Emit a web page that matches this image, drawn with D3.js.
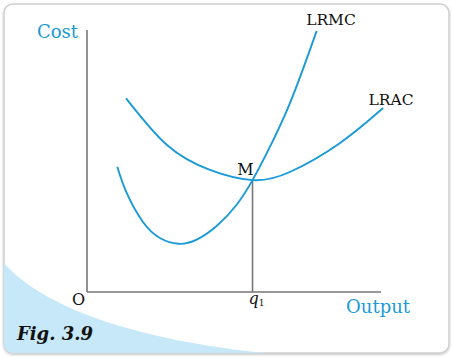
<!DOCTYPE html>
<html>
<head>
<meta charset="utf-8">
<script src="https://cdn.jsdelivr.net/npm/d3@7"></script>
<style>
body { margin: 0; background: #fff; }
svg { display: block; }
</style>
</head>
<body>
<script>
// output (q) and cost values, 0..100 units
const mcQ = [10.3, 13.5, 19.1, 24.8, 31.1, 37.3, 44.1, 50.9, 56.3, 61.1, 69.0, 78.1];
const mcC = [47.8, 37.8, 26.6, 20.6, 18.4, 20.0, 25.2, 33.3, 42.7, 52.9, 72.0, 99.6];
const acQ = [13.3, 27.2, 41.8, 56.3, 69.0, 86.1, 100.7];
const acC = [73.9, 56.1, 46.6, 42.7, 45.8, 56.9, 70.2];
const q1 = 56.3, mCost = 42.7;
const labels = { y: "Cost", x: "Output", origin: "O", fig: "Fig. 3.9" };

const W = 453, H = 357;
const blue = "#1a9ad6", axisCol = "#777", serif = "'DejaVu Serif', serif";

let svg = d3.select("body").append("svg").attr("width", W).attr("height", H);
let defs = svg.append("defs");
defs.append("filter").attr("id", "sh").attr("x", "-5%").attr("y", "-5%").attr("width", "110%").attr("height", "110%")
	.append("feDropShadow").attr("dx", 0).attr("dy", 1).attr("stdDeviation", 1.2).attr("flood-color", "#000").attr("flood-opacity", 0.25);
defs.append("clipPath").attr("id", "box")
	.append("rect").attr("x", 4).attr("y", 4).attr("width", 445).attr("height", 349).attr("rx", 9);

// panel
svg.append("rect").attr("x", 4).attr("y", 4).attr("width", 445).attr("height", 349).attr("rx", 9)
	.attr("fill", "#fff").attr("stroke", "#d0d0d0").attr("stroke-width", 1.5).attr("filter", "url(#sh)");
svg.append("path").attr("clip-path", "url(#box)")
	.attr("d", "M0,258 C40,310 150,345 300,356 L0,356 Z")
	.attr("fill", "#c6e8f8");

let x = d3.scaleLinear().domain([0, 100]).range([87, 381]);
let y = d3.scaleLinear().domain([0, 100]).range([292, 30]);

// axes
let g = svg.append("g");
g.append("line").attr("x1", x(0)).attr("x2", x(0)).attr("y1", y(100)).attr("y2", y(0))
	.attr("stroke", axisCol).attr("stroke-width", 1.6);
g.append("line").attr("x1", x(0)).attr("x2", x(100)).attr("y1", y(0)).attr("y2", y(0))
	.attr("stroke", axisCol).attr("stroke-width", 1.6);
g.append("line").attr("x1", x(q1)).attr("x2", x(q1)).attr("y1", y(mCost)).attr("y2", y(0))
	.attr("stroke", axisCol).attr("stroke-width", 1.6);

let line = d3.line().x(d => x(d[0])).y(d => y(d[1])).curve(d3.curveNatural);
g.append("path").datum(d3.zip(mcQ, mcC)).attr("d", line)
	.attr("fill", "none").attr("stroke", blue).attr("stroke-width", 1.9);
g.append("path").datum(d3.zip(acQ, acC)).attr("d", line)
	.attr("fill", "none").attr("stroke", blue).attr("stroke-width", 1.9);

// labels
let t = svg.append("g").attr("font-family", serif);
t.append("text").attr("x", 78).attr("y", 38).attr("text-anchor", "end")
	.attr("font-size", 18).attr("fill", blue).text(labels.y);
t.append("text").attr("x", 410).attr("y", 313).attr("text-anchor", "end")
	.attr("font-size", 18).attr("fill", blue).text(labels.x);
t.append("text").attr("x", x(0) - 2).attr("y", 305).attr("text-anchor", "end")
	.attr("font-size", 16).attr("fill", "#111").text(labels.origin);
let qt = t.append("text").attr("x", x(q1) - 4).attr("y", 304)
	.attr("font-size", 16).attr("fill", "#111");
qt.append("tspan").attr("font-style", "italic").text("q");
qt.append("tspan").attr("font-size", 9).attr("dy", 2).text("1");
t.append("text").attr("x", x(q1) + 1).attr("y", 175).attr("text-anchor", "end")
	.attr("font-size", 16).attr("fill", "#111").text("M");
t.append("text").attr("x", 331).attr("y", 25)
	.attr("text-anchor", "middle").attr("font-size", 15.5).attr("fill", "#111").text("LRMC");
t.append("text").attr("x", 391).attr("y", 105)
	.attr("text-anchor", "middle").attr("font-size", 15.5).attr("fill", "#111").text("LRAC");
t.append("text").attr("x", 17).attr("y", 340).attr("font-size", 18).attr("font-weight", "bold")
	.attr("font-style", "italic").attr("fill", "#111").text(labels.fig);
</script>
</body>
</html>
